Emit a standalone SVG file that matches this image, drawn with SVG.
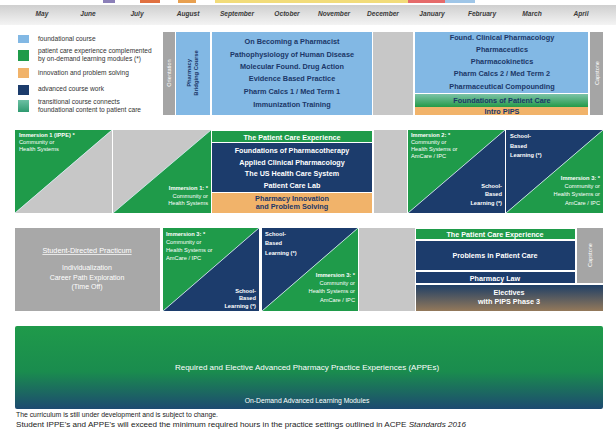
<svg xmlns="http://www.w3.org/2000/svg" width="616" height="432" viewBox="0 0 616 432">
<defs>
<linearGradient id="gHdr" x1="0" y1="0" x2="0" y2="1"><stop offset="0" stop-color="#cfcfcf"/><stop offset="1" stop-color="#f4f4f4"/></linearGradient>
<linearGradient id="gAppe" x1="0" y1="0" x2="0" y2="1"><stop offset="0" stop-color="#1f9a4a"/><stop offset="0.55" stop-color="#1a8c4e"/><stop offset="1" stop-color="#1d4a70"/></linearGradient>
<linearGradient id="gElect" x1="0" y1="0" x2="0" y2="1"><stop offset="0" stop-color="#1f3f66"/><stop offset="1" stop-color="#94795a"/></linearGradient>
<linearGradient id="gFpc" x1="0" y1="0" x2="0" y2="1"><stop offset="0" stop-color="#7cc3a8"/><stop offset="1" stop-color="#249a48"/></linearGradient>
<linearGradient id="gTeal" x1="0" y1="0" x2="0" y2="1"><stop offset="0" stop-color="#6cc0a4"/><stop offset="1" stop-color="#2f9a70"/></linearGradient>
<style>
.t{font-family:"Liberation Sans",Arial,sans-serif}
.mon{font-family:"Liberation Sans",Arial,sans-serif;font-size:6.6px;font-weight:bold;font-style:italic;fill:#3a3a3a;text-anchor:middle}
.leg{font-family:"Liberation Sans",Arial,sans-serif;font-size:6.6px;fill:#333}
.bk{font-family:"Liberation Sans",Arial,sans-serif;font-size:7.3px;font-weight:bold;fill:#1b3768;text-anchor:middle}
.wb{font-family:"Liberation Sans",Arial,sans-serif;font-size:7.2px;font-weight:bold;fill:#fff;text-anchor:middle}
.sm{font-family:"Liberation Sans",Arial,sans-serif;font-size:5.7px;fill:#fff}
.smb{font-family:"Liberation Sans",Arial,sans-serif;font-size:5.7px;fill:#fff;font-weight:bold}
.r{text-anchor:end}
.lb{fill:#82b8e4}
.gr{fill:#1f9b4a}
.nv{fill:#1c3c6c}
.or{fill:#f1b36a}
.gy{fill:#c7c7c7}
.diag{stroke:#d8ecf4;stroke-width:0.8}
</style>
</defs>
<rect width="616" height="432" fill="#ffffff"/>

<g id="topstrip">
<rect x="103" y="0" width="12" height="3" fill="#8b7fb8"/>
<rect x="140" y="0" width="20" height="3" fill="#e07040"/>
<rect x="178" y="0" width="18" height="3" fill="#e8a050"/>
<rect x="215" y="0" width="193" height="3" fill="#f2dc7a"/>
<rect x="408" y="0" width="37" height="3" fill="#e56a6a"/>
<rect x="445" y="0" width="30" height="3" fill="#9fc6e8"/>
</g>

<g id="header">
<rect x="0" y="5" width="616" height="20" fill="url(#gHdr)"/>
<text class="mon" x="42" y="16">May</text>
<text class="mon" x="88" y="16">June</text>
<text class="mon" x="137" y="16">July</text>
<text class="mon" x="188" y="16">August</text>
<text class="mon" x="237" y="16">September</text>
<text class="mon" x="287" y="16">October</text>
<text class="mon" x="334" y="16">November</text>
<text class="mon" x="383" y="16">December</text>
<text class="mon" x="432" y="16">January</text>
<text class="mon" x="482" y="16">February</text>
<text class="mon" x="532" y="16">March</text>
<text class="mon" x="581" y="16">April</text>
</g>

<g id="legend">
<rect x="18" y="35" width="11" height="8" class="lb"/>
<text class="leg" x="38" y="41">foundational course</text>
<rect x="18" y="50" width="11" height="11" class="gr"/>
<text class="leg" x="38" y="53">patient care experience complemented</text>
<text class="leg" x="38" y="60.5">by on-demand learning modules (*)</text>
<rect x="18" y="68" width="11" height="10" class="or"/>
<text class="leg" x="38" y="75">innovation and problem solving</text>
<rect x="18" y="85" width="11" height="10" class="nv"/>
<text class="leg" x="38" y="91">advanced course work</text>
<rect x="18" y="100" width="11" height="12" fill="url(#gTeal)"/>
<text class="leg" x="38" y="104">transitional course connects</text>
<text class="leg" x="38" y="111.5">foundational content to patient care</text>
</g>

<g id="orientation">
<rect x="163" y="32" width="12" height="83" fill="#a5a5a5"/>
<text class="t" transform="translate(171,73) rotate(-90)" font-size="5.6" fill="#fff" text-anchor="middle">Orientation</text>
</g>
<g id="bridging">
<rect x="176" y="32" width="34" height="83" class="lb"/>
<text class="t" transform="translate(191,73) rotate(-90)" font-size="5.8" font-weight="bold" fill="#1b3768" text-anchor="middle">Pharmacy</text>
<text class="t" transform="translate(198,73) rotate(-90)" font-size="5.8" font-weight="bold" fill="#1b3768" text-anchor="middle">Bridging Course</text>
</g>
<g id="fall1">
<rect x="212" y="32" width="160" height="83" class="lb"/>
<text class="bk" x="292" y="44">On Becoming a Pharmacist</text>
<text class="bk" x="292" y="57">Pathophysiology of Human Disease</text>
<text class="bk" x="292" y="69">Molecular Found. Drug Action</text>
<text class="bk" x="292" y="81">Evidence Based Practice</text>
<text class="bk" x="292" y="94">Pharm Calcs 1 / Med Term 1</text>
<text class="bk" x="292" y="107">Immunization Training</text>
</g>
<g id="dec1"><rect x="373" y="32" width="40" height="83" class="gy"/></g>
<g id="spring1">
<rect x="415" y="32" width="173" height="61" class="lb"/>
<text class="bk" x="502" y="40">Found. Clinical Pharmacology</text>
<text class="bk" x="502" y="52">Pharmaceutics</text>
<text class="bk" x="502" y="64">Pharmacokinetics</text>
<text class="bk" x="502" y="76">Pharm Calcs 2 / Med Term 2</text>
<text class="bk" x="502" y="89">Pharmaceutical Compounding</text>
<rect x="415" y="94" width="173" height="13" fill="url(#gFpc)"/>
<text class="bk" x="502" y="103">Foundations of Patient Care</text>
<rect x="415" y="107" width="173" height="8" class="or"/>
<text class="bk" x="502" y="114" font-size="6">Intro PIPS</text>
</g>
<g id="capstone1">
<rect x="590" y="32" width="13" height="83" fill="#a5a5a5"/>
<text class="t" transform="translate(598.5,73) rotate(-90)" font-size="5.6" fill="#fff" text-anchor="middle">Capstone</text>
</g>

<g id="imm1a">
<polygon points="15,130 112,130 15,213" class="gr"/>
<polygon points="112,130 112,213 15,213" class="gy"/>
<line x1="15" y1="213" x2="112" y2="130" class="diag"/>
<text class="smb" x="19" y="137">Immersion 1 (IPPE) *</text>
<text class="sm" x="19" y="144">Community or</text>
<text class="sm" x="19" y="151">Health Systems</text>
</g>
<g id="imm1b">
<polygon points="113,130 211,130 113,213" class="gy"/>
<polygon points="211,130 211,213 113,213" class="gr"/>
<line x1="113" y1="213" x2="211" y2="130" class="diag"/>
<text class="smb r" x="208" y="190">Immersion 1: *</text>
<text class="sm r" x="208" y="198">Community or</text>
<text class="sm r" x="208" y="205">Health Systems</text>
</g>
<g id="pce1">
<rect x="212" y="131" width="160" height="11" class="gr"/>
<text class="wb" x="292" y="139.5" font-size="6.6">The Patient Care Experience</text>
<rect x="212" y="143" width="160" height="49" class="nv"/>
<text class="wb" x="292" y="153">Foundations of Pharmacotherapy</text>
<text class="wb" x="292" y="165">Applied Clinical Pharmacology</text>
<text class="wb" x="292" y="176">The US Health Care System</text>
<text class="wb" x="292" y="188">Patient Care Lab</text>
<rect x="212" y="193" width="160" height="20" class="or"/>
<text class="bk" x="292" y="201" font-size="6.8">Pharmacy Innovation</text>
<text class="bk" x="292" y="209" font-size="6.8">and Problem Solving</text>
</g>
<g id="dec2"><rect x="374" y="130" width="33" height="83" class="gy"/></g>
<g id="imm2">
<polygon points="408,130 505,130 408,213" class="gr"/>
<polygon points="505,130 505,213 408,213" class="nv"/>
<line x1="408" y1="213" x2="505" y2="130" class="diag"/>
<text class="smb" x="411" y="137">Immersion 2: *</text>
<text class="sm" x="411" y="144">Community or</text>
<text class="sm" x="411" y="151">Health Systems or</text>
<text class="sm" x="411" y="158">AmCare / IPC</text>
<text class="smb r" x="502" y="188">School-</text>
<text class="smb r" x="502" y="196">Based</text>
<text class="smb r" x="502" y="205">Learning (*)</text>
</g>
<g id="sbl2">
<polygon points="506,130 603,130 506,213" class="nv"/>
<polygon points="603,130 603,213 506,213" class="gr"/>
<line x1="506" y1="213" x2="603" y2="130" class="diag"/>
<text class="smb" x="510" y="138">School-</text>
<text class="smb" x="510" y="148">Based</text>
<text class="smb" x="510" y="157">Learning (*)</text>
<text class="smb r" x="600" y="180">Immersion 3: *</text>
<text class="sm r" x="600" y="188">Community or</text>
<text class="sm r" x="600" y="196">Health Systems or</text>
<text class="sm r" x="600" y="205">AmCare / IPC</text>
</g>

<g id="practicum">
<rect x="15" y="228" width="145" height="83" fill="#a8a8a8"/>
<text class="t" x="87" y="253" font-size="7.3" fill="#fff" text-anchor="middle" text-decoration="underline">Student-Directed Practicum</text>
<text class="t" x="87" y="270" font-size="7" fill="#fff" text-anchor="middle">Individualization</text>
<text class="t" x="87" y="280" font-size="7" fill="#fff" text-anchor="middle">Career Path Exploration</text>
<text class="t" x="87" y="289" font-size="7" fill="#fff" text-anchor="middle">(Time Off)</text>
</g>
<g id="imm3a">
<polygon points="163,228 259,228 163,311" class="gr"/>
<polygon points="259,228 259,311 163,311" class="nv"/>
<line x1="163" y1="311" x2="259" y2="228" class="diag"/>
<text class="smb" x="166" y="236">Immersion 3: *</text>
<text class="sm" x="166" y="244">Community or</text>
<text class="sm" x="166" y="252">Health Systems or</text>
<text class="sm" x="166" y="260">AmCare / IPC</text>
<text class="smb r" x="256" y="293">School-</text>
<text class="smb r" x="256" y="300">Based</text>
<text class="smb r" x="256" y="308">Learning (*)</text>
</g>
<g id="sbl3">
<polygon points="262,228 358,228 262,311" class="nv"/>
<polygon points="358,228 358,311 262,311" class="gr"/>
<line x1="262" y1="311" x2="358" y2="228" class="diag"/>
<text class="smb" x="265" y="236">School-</text>
<text class="smb" x="265" y="245">Based</text>
<text class="smb" x="265" y="255">Learning (*)</text>
<text class="smb r" x="355" y="277">Immersion 3: *</text>
<text class="sm r" x="355" y="285">Community or</text>
<text class="sm r" x="355" y="293">Health Systems or</text>
<text class="sm r" x="355" y="302">AmCare / IPC</text>
</g>
<g id="dec3"><rect x="359" y="228" width="56" height="83" class="gy"/></g>
<g id="spring3">
<rect x="416" y="229" width="159" height="10" class="gr"/>
<text class="wb" x="495" y="237" font-size="6.4">The Patient Care Experience</text>
<rect x="416" y="241" width="159" height="29" class="nv"/>
<text class="wb" x="495" y="258">Problems in Patient Care</text>
<rect x="416" y="272" width="159" height="11" class="nv"/>
<text class="wb" x="495" y="280.5">Pharmacy Law</text>
<rect x="416" y="285" width="187" height="26" fill="url(#gElect)"/>
<text class="wb" x="509" y="295" font-size="6.6">Electives</text>
<text class="wb" x="509" y="304" font-size="6.6">with PIPS Phase 3</text>
</g>
<g id="capstone3">
<rect x="577" y="228" width="26" height="55" fill="#a5a5a5"/>
<text class="t" transform="translate(592,255) rotate(-90)" font-size="5.6" fill="#fff" text-anchor="middle">Capstone</text>
</g>

<g id="appe">
<rect x="15" y="326" width="588" height="83" rx="2" fill="url(#gAppe)"/>
<text class="t" x="307" y="370" font-size="8" fill="#fff" text-anchor="middle">Required and Elective Advanced Pharmacy Practice Experiences (APPEs)</text>
<text class="t" x="307" y="403" font-size="6.8" fill="#fff" text-anchor="middle">On-Demand Advanced Learning Modules</text>
</g>

<g id="footer">
<text class="t" x="16" y="417" font-size="6.6" fill="#222" textLength="202" lengthAdjust="spacingAndGlyphs">The curriculum is still under development and is subject to change.</text>
<text class="t" x="16" y="427" font-size="6.8" fill="#222" textLength="450" lengthAdjust="spacingAndGlyphs">Student IPPE's and APPE's will exceed the minimum required hours in the practice settings outlined in ACPE <tspan font-style="italic">Standards 2016</tspan></text>
</g>
<g id="connectors"/>
</svg>
